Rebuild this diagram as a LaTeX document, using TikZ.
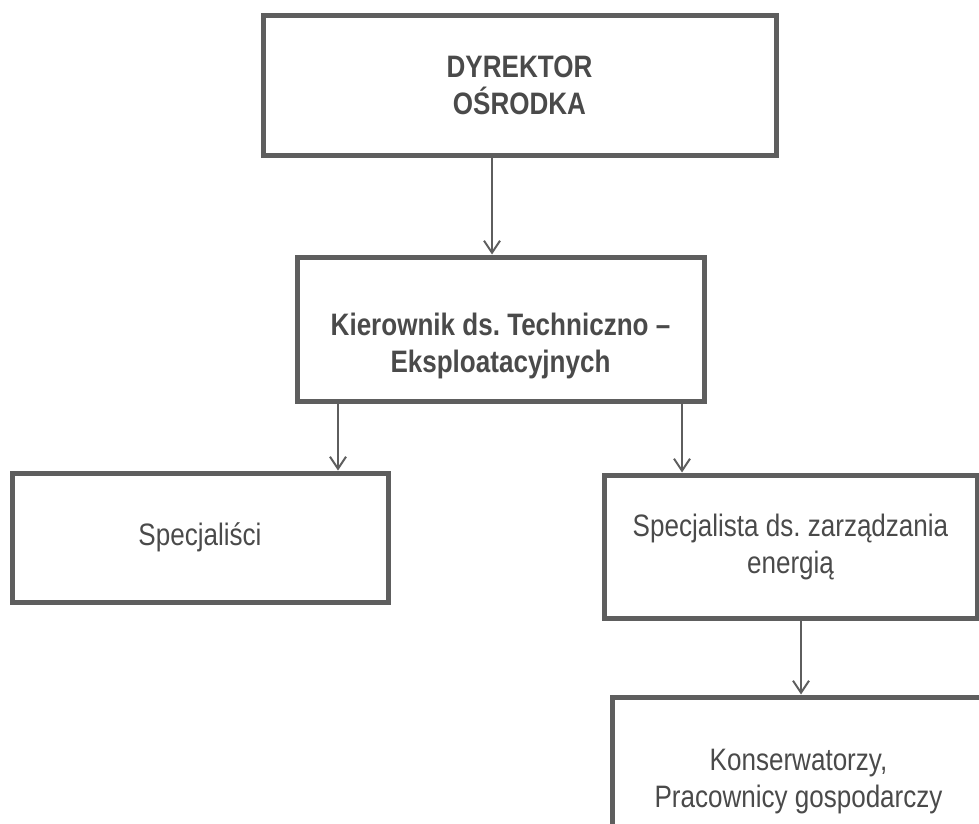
\documentclass[tikz,border=0pt]{standalone}
\usepackage{fontspec}
\setmainfont{Liberation Sans}[FakeStretch=0.84]
\usetikzlibrary{arrows.meta}
\definecolor{ramka}{HTML}{5E5E5E}
\definecolor{tekst}{HTML}{4A4A4A}
\frenchspacing
\tikzset{
  box/.style={draw=ramka, line width=5pt, rectangle, align=center, text=tekst,
    font=\fontsize{31}{37}\selectfont},
  glowny/.style={box, font=\fontsize{31}{37}\selectfont\bfseries},
  napis/.style={align=center, text=tekst, font=\fontsize{31}{37}\selectfont\bfseries},
  arr/.style={draw=ramka, line width=2pt,
    -{Straight Barb[length=12pt,width=16pt,line width=2pt]}}
}

\begin{document}
\begin{tikzpicture}[x=1pt,y=-1pt]
      \useasboundingbox (0, 0) rectangle (979, 823);
      \node[glowny, minimum width=513pt, minimum height=140pt] (dyr) at (519.5, 85) {DYREKTOR\\OŚRODKA};
      \node[box, minimum width=407pt, minimum height=144pt] (kier) at (500.5, 329) {};
      \node[napis] (kiertekst) at ([yshift=-17pt]kier.center) {Kierownik ds. Techniczno --\\Eksploatacyjnych};
      \node[box, minimum width=376pt, minimum height=129pt] (spec) at (200, 537.5) {Specjaliści};
      \node[box, minimum width=373pt, minimum height=143pt] (energia) at (790.5, 546.5) {Specjalista ds. zarządzania\\energią};
      \node[box, minimum width=373pt, minimum height=170pt] (kons) at (798.5, 782) {Konserwatorzy,\\Pracownicy gospodarczy};
      \draw[arr] ([xshift=-27.5pt]dyr.south) -- ([xshift=-27.5pt]dyr.south |- kier.north);
      \draw[arr] ([xshift=-162.5pt]kier.south) -- ([xshift=-162.5pt]kier.south |- spec.north);
      \draw[arr] ([xshift=181.5pt]kier.south) -- ([xshift=181.5pt]kier.south |- energia.north);
      \draw[arr] ([xshift=10.5pt]energia.south) -- ([xshift=10.5pt]energia.south |- kons.north);
    \end{tikzpicture}
\end{document}
